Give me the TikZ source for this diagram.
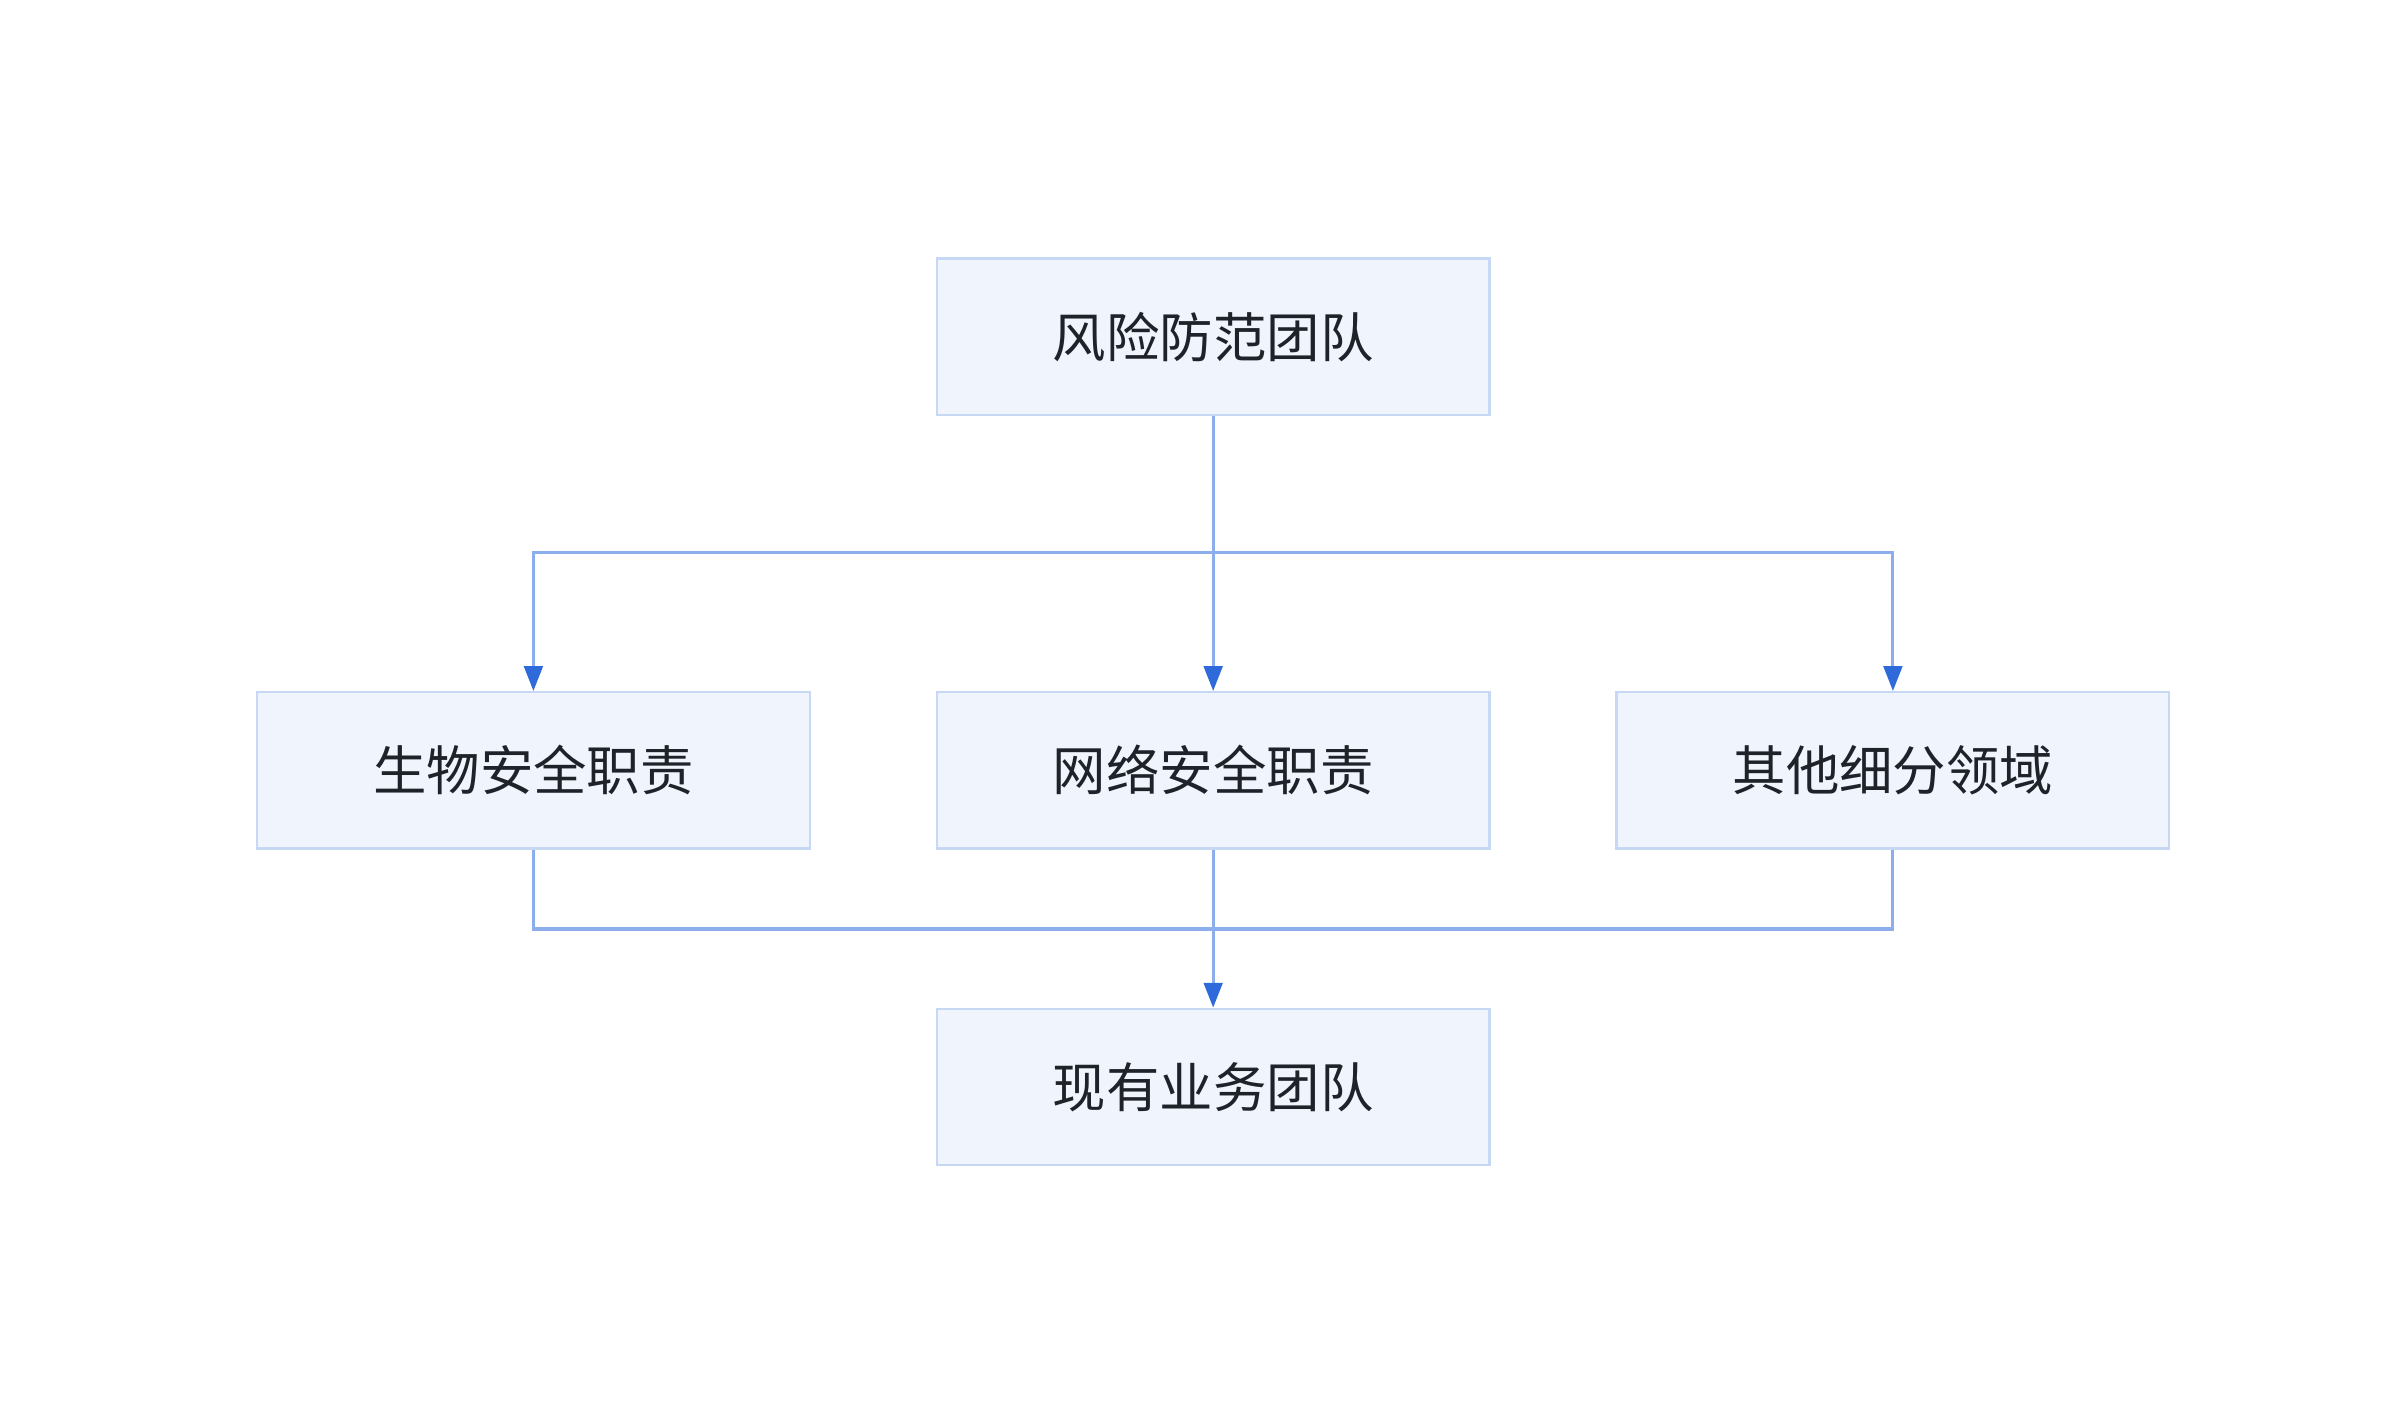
\documentclass[tikz,border=0pt]{standalone}
\usepackage{fontspec}
\newfontfamily\cjk{Noto Sans CJK SC}
\usetikzlibrary{arrows.meta}
\definecolor{boxfill}{HTML}{F0F5FD}
\definecolor{boxdraw}{HTML}{C6D8F3}
\definecolor{linec}{HTML}{8CAEEC}
\definecolor{tipc}{HTML}{2F6ADB}
\definecolor{txt}{HTML}{1F2329}
\begin{document}
\begin{tikzpicture}[x=1pt,y=-1pt,
  box/.style={draw=boxdraw,line width=1.5pt,fill=boxfill,minimum width=357pt,minimum height=101pt,inner sep=0pt,font=\cjk\fontsize{34.5}{40}\selectfont,text=txt},
  conn/.style={draw=linec,line width=2pt,-{Triangle[length=16pt,width=12pt,color=tipc,fill=tipc]}},
  plain/.style={draw=linec,line width=2pt}]
\useasboundingbox (0,0) rectangle (1550,909);
\node[box] (top) at (783.5,217.5) {风险防范团队};
\node[box] (l) at (344.5,497.5) {生物安全职责};
\node[box] (m) at (783.5,497.5) {网络安全职责};
\node[box] (r) at (1222.5,497.5) {其他细分领域};
\node[box] (b) at (783.5,702) {现有业务团队};
\coordinate (j1) at (783.5,357);
\coordinate (j2) at (783.5,600);
\draw[plain] (top.south) -- (j1);
\draw[conn] (j1) -| (l.north);
\draw[conn] (j1) -- (m.north);
\draw[conn] (j1) -| (r.north);
\draw[plain] (l.south) |- (j2);
\draw[plain] (r.south) |- (j2);
\draw[plain] (m.south) -- (j2);
\draw[conn] (j2) -- (b.north);
\end{tikzpicture}
\end{document}
